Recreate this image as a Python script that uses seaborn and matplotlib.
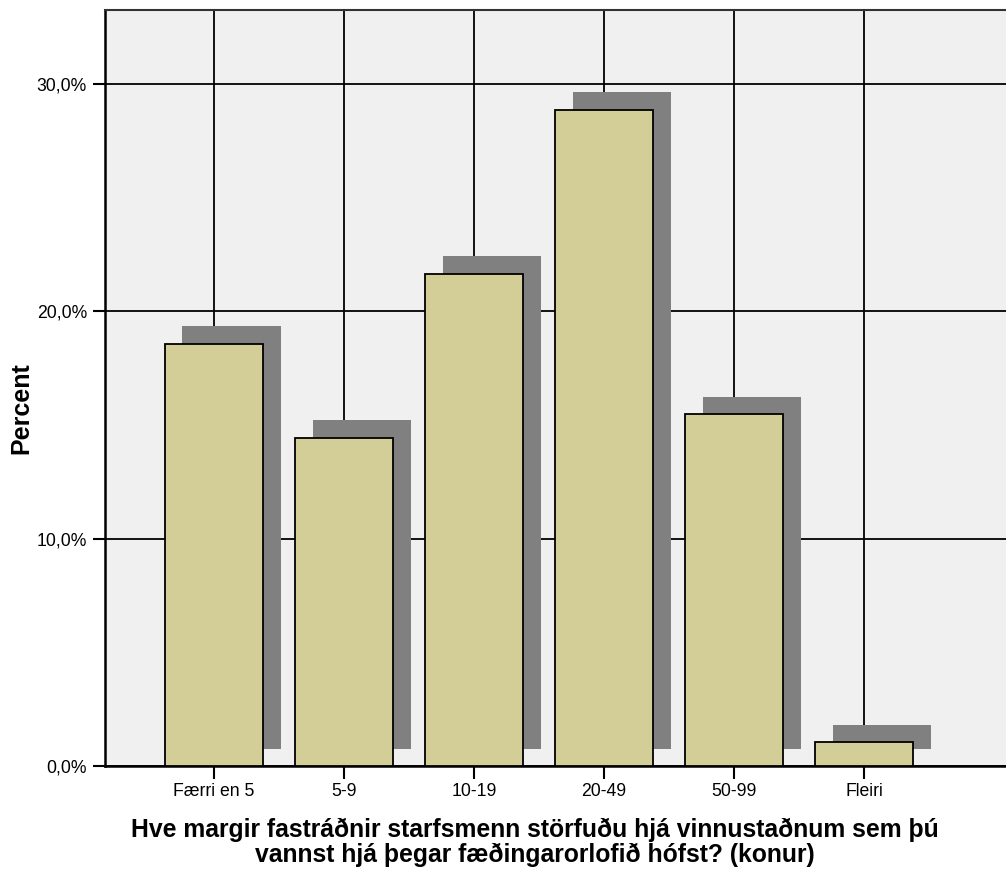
"""Starfsmannafjöldi á vinnustað við upphaf fæðingarorlofs (konur)."""

import matplotlib
matplotlib.use("Agg")
import matplotlib.pyplot as plt
import matplotlib.ticker as mticker
import matplotlib.transforms as mtransforms
import seaborn as sns

# gögn
CATEGORIES = ["Færri en 5", "5-9", "10-19", "20-49", "50-99", "Fleiri"]
PERCENT = [18.57, 14.44, 21.65, 28.86, 15.48, 1.04]
Y_TICKS = [0, 10, 20, 30]

BAR_COLOR = "#D3CE97"
SHADOW_COLOR = "#808080"
BG_COLOR = "#F0F0F0"

sns.set_style("white")
plt.rcParams["font.family"] = ["Liberation Sans", "DejaVu Sans"]

fig = plt.figure(figsize=(10.06, 8.69), dpi=100)
ax = fig.add_axes([105 / 1006, 1 - 766 / 869, 1 - 105 / 1006, (766 - 10) / 869])
ax.set_facecolor(BG_COLOR)

# skuggi: sömu súlur, hliðraðar upp og til hægri
sns.barplot(x=CATEGORIES, y=PERCENT, color=SHADOW_COLOR, width=0.754,
            linewidth=0, saturation=1, ax=ax, zorder=2)
shift = mtransforms.ScaledTranslation(17.5 / 100, 17.5 / 100, fig.dpi_scale_trans)
for p in ax.patches:
    p.set_transform(ax.transData + shift)

sns.barplot(x=CATEGORIES, y=PERCENT, color=BAR_COLOR, width=0.754,
            edgecolor="black", linewidth=1.3, saturation=1, ax=ax, zorder=3)

ax.set_xlim(-0.838, 6.09)
ax.set_ylim(0, 33.25)
ax.set_yticks(Y_TICKS)
ax.yaxis.set_major_formatter(
    mticker.FuncFormatter(lambda v, _: f"{v:.1f}%".replace(".", ","))
)

ax.set_axisbelow(True)
ax.grid(True, color="black", linewidth=1.3, zorder=0)

for side in ["left", "bottom"]:
    ax.spines[side].set_color("black")
    ax.spines[side].set_linewidth(1.8)
ax.spines["top"].set_color("#333333")
ax.spines["top"].set_linewidth(1.5)
ax.spines["right"].set_visible(False)

ax.tick_params(axis="both", length=9, width=1.5, color="black",
               labelsize=12.7, labelcolor="black", left=True, bottom=True)
ax.tick_params(axis="y", pad=4)
ax.tick_params(axis="x", pad=3)

ax.set_ylabel("Percent", fontsize=18, fontweight="bold", color="black")
ax.yaxis.label.set_va("center")
ax.yaxis.label.set_ha("center")
ax.yaxis.set_label_coords((21 - 105) / 901, (766 - 408) / 756)

ax.set_xlabel(
    "Hve margir fastráðnir starfsmenn störfuðu hjá vinnustaðnum sem þú\n"
    "vannst hjá þegar fæðingarorlofið hófst? (konur)",
    fontsize=17.8, fontweight="bold", color="black", linespacing=1.05,
)
ax.xaxis.set_label_coords((535 - 105) / 901, (766 - 842) / 756)
ax.xaxis.label.set_va("center")

fig.savefig("out.png", dpi=100, facecolor="white")
